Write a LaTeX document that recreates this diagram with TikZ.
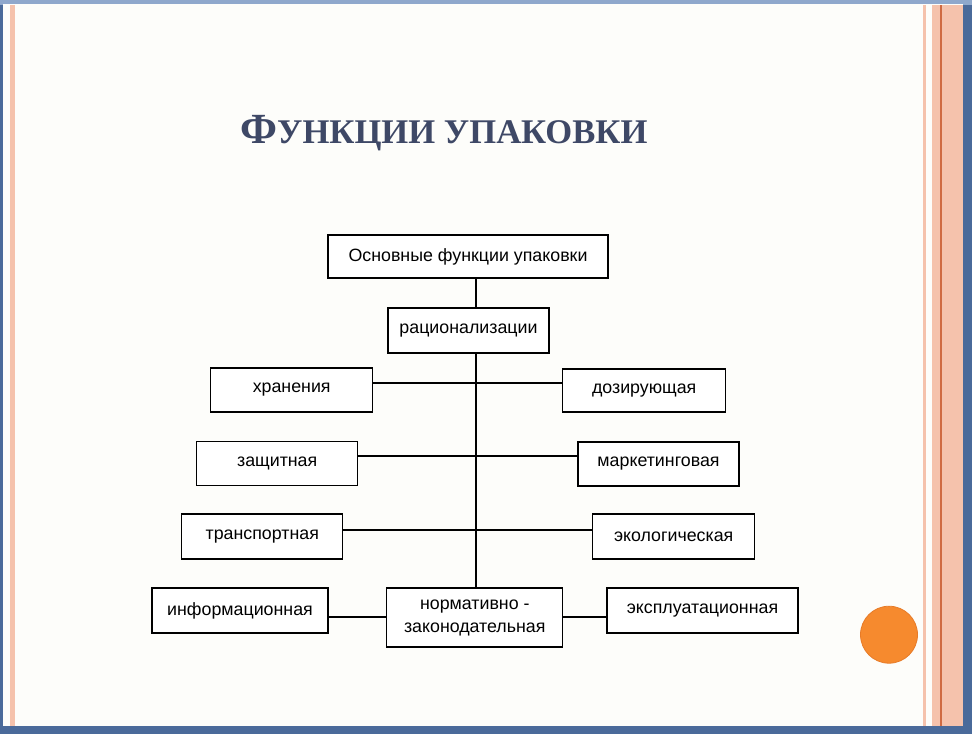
\documentclass[tikz,border=0pt]{standalone}
\usepackage{fontspec}
\setmainfont{Liberation Serif}
\newfontfamily\boxfont{Liberation Sans}
\definecolor{frameblue}{HTML}{4A6A9A}
\definecolor{topblue}{HTML}{8FA8CC}
\definecolor{slidebg}{HTML}{FDFDFA}
\definecolor{salmon}{HTML}{F5C2AC}
\definecolor{salmondark}{HTML}{CF6A42}
\definecolor{titlecol}{HTML}{3E4866}
\definecolor{orangedot}{HTML}{F68A2E}
\definecolor{orangeedge}{HTML}{E77B28}
\tikzset{
  box/.style={draw=black, line width=1.3pt, fill=white, inner sep=0pt,
    font=\boxfont\fontsize{17.8}{23}\selectfont, align=center},
  link/.style={draw=black, line width=1.3pt},
}
\newcommand{\titletext}{{\fontsize{43}{43}\selectfont Ф}{\fontsize{34.6}{34.6}\selectfont УНКЦИИ УПАКОВКИ}}
\begin{document}
\begin{tikzpicture}[x=1pt,y=-1pt]
% frame and slide
\fill[frameblue] (0,0) rectangle (972,734);
\fill[topblue] (0,0) rectangle (972,5);
\fill[slidebg] (3,4) rectangle (963,726);
\fill[salmon] (10,5) rectangle (15,726);
\fill[salmon] (923,5) rectangle (925.5,726);
\fill[salmon] (932,5) rectangle (963,726);
\fill[salmondark] (939.5,5) rectangle (942,726);
% title
\node[anchor=base west, inner sep=0pt, font=\bfseries, text=titlecol] (title) at (240,143.5) {\titletext};
% boxes
\node[box, minimum width=280pt, minimum height=43pt] (top) at (468,256.5) {Основные функции упаковки};
\node[box, minimum width=161pt, minimum height=45pt] (rat) at (468.5,330.5) {рационализации};
\node[box, minimum width=162pt, minimum height=44pt] (xr) at (291.7,390) {хранения};
\node[box, minimum width=163pt, minimum height=43pt] (doz) at (644.2,390.5) {дозирующая};
\node[box, minimum width=161pt, minimum height=44pt] (zas) at (277.2,463.8) {защитная};
\node[box, minimum width=161pt, minimum height=44pt] (mar) at (658.5,464) {маркетинговая};
\node[box, minimum width=161pt, minimum height=45pt] (tra) at (262.3,536.5) {транспортная};
\node[box, minimum width=162pt, minimum height=45pt] (eko) at (673.7,536.5) {экологическая};
\node[box, minimum width=176pt, minimum height=45pt] (inf) at (240,610.5) {информационная};
\node[box, minimum width=176pt, minimum height=59pt] (nor) at (474.8,617.5) {нормативно -\\законодательная};
\node[box, minimum width=191pt, minimum height=45pt] (eks) at (702.5,610.5) {эксплуатационная};
% connectors
\coordinate (sp) at (476,0);
\coordinate (h1) at (0,383);
\coordinate (h2) at (0,456);
\coordinate (h3) at (0,530);
\coordinate (h4) at (0,617);
\draw[link] (top.south -| sp) -- (rat.north -| sp);
\draw[link] (rat.south -| sp) -- (nor.north -| sp);
\draw[link] (xr.east |- h1) -- (doz.west |- h1);
\draw[link] (zas.east |- h2) -- (mar.west |- h2);
\draw[link] (tra.east |- h3) -- (eko.west |- h3);
\draw[link] (inf.east |- h4) -- (nor.west |- h4);
\draw[link] (nor.east |- h4) -- (eks.west |- h4);
% orange dot
\node[circle, fill=orangedot, draw=orangeedge, line width=0.8pt, minimum size=57pt, inner sep=0pt] (dot) at (889,634.7) {};
\end{tikzpicture}
\end{document}
